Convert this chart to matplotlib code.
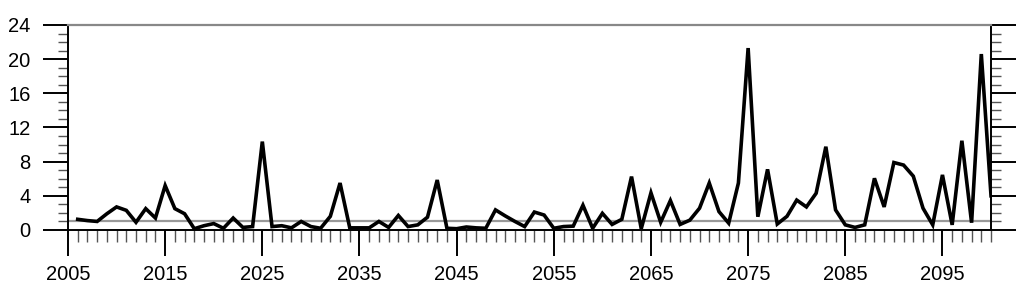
import numpy as np
import matplotlib
matplotlib.use('Agg')
import matplotlib.pyplot as plt
from matplotlib.ticker import MultipleLocator

# years 2006..2100, values
years = list(range(2006, 2101))
values = [
	1.25, 1.1, 1.0, 1.9, 2.7, 2.3, 0.9, 2.5, 1.4, 5.2,      # 2006-2015
	2.5, 1.9, 0.15, 0.5, 0.75, 0.2, 1.4, 0.3, 0.4, 10.35,   # 2016-2025
	0.4, 0.5, 0.25, 1.0, 0.4, 0.2, 1.6, 5.5, 0.25, 0.25,    # 2026-2035
	0.25, 1.0, 0.3, 1.7, 0.4, 0.6, 1.5, 5.85, 0.2, 0.15,    # 2036-2045
	0.35, 0.25, 0.2, 2.35, 1.65, 1.0, 0.4, 2.1, 1.75, 0.2,  # 2046-2055
	0.4, 0.45, 2.9, 0.2, 1.95, 0.65, 1.25, 6.25, 0.15, 4.35,  # 2056-2065
	0.9, 3.45, 0.65, 1.15, 2.55, 5.5, 2.15, 0.8, 5.5, 21.3,   # 2066-2075
	1.55, 7.1, 0.7, 1.6, 3.5, 2.7, 4.3, 9.75, 2.35, 0.6,    # 2076-2085
	0.3, 0.6, 6.05, 2.7, 7.9, 7.6, 6.3, 2.55, 0.6, 6.45,    # 2086-2095
	0.6, 10.45, 0.85, 20.6, 4.0,                            # 2096-2100
]
ref_level = 1.0
xticks = [2005, 2015, 2025, 2035, 2045, 2055, 2065, 2075, 2085, 2095]
yticks = [0, 4, 8, 12, 16, 20, 24]

plt.rcParams['font.family'] = ['Liberation Sans', 'DejaVu Sans']

fig = plt.figure(figsize=(10.24, 2.89), dpi=100)
ax = fig.add_axes([0.0664, 0.2042, 0.9014, 0.7093])

ax.axhline(ref_level, color='#999999', lw=1.6, zorder=1)
ax.plot(years, values, color='black', lw=2.6, solid_joinstyle='miter', zorder=2)

ax.set_xlim(2005, 2100)
ax.set_ylim(0, 24)
ax.set_xticks(xticks)
ax.set_yticks(yticks)
ax.xaxis.set_minor_locator(MultipleLocator(1))
ax.yaxis.set_minor_locator(MultipleLocator(1))

ax.tick_params(axis='x', which='major', direction='out', length=19, width=1.4,
	labelsize=14.5, pad=6, top=False)
ax.tick_params(axis='x', which='minor', direction='out', length=8.5, width=1.0,
	color='#555555', top=False)
ax.tick_params(axis='y', which='major', direction='out', length=18, width=1.4,
	labelsize=14.5, pad=9, right=True)
ax.tick_params(axis='y', which='minor', direction='out', length=7.5, width=1.0,
	color='#555555', right=True)

for side in ['left', 'right', 'bottom']:
	ax.spines[side].set_linewidth(1.4)
ax.spines['top'].set_color('#888888')
ax.spines['top'].set_linewidth(1.6)

fig.savefig('out.png', dpi=100)
